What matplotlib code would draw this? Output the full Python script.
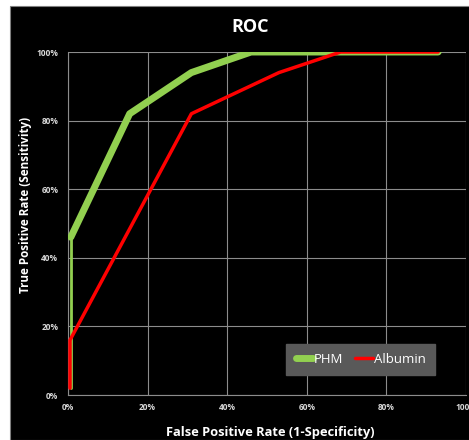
import matplotlib.pyplot as plt
from matplotlib.patches import Rectangle
from matplotlib.ticker import PercentFormatter

plt.rcParams['font.family'] = ['Open Sans', 'DejaVu Sans']

# ROC points (false positive rate, true positive rate)
phm_fpr = [0.007, 0.007, 0.155, 0.31, 0.46, 0.93]
phm_tpr = [0.02, 0.46, 0.82, 0.94, 1.00, 1.00]

alb_fpr = [0.005, 0.005, 0.31, 0.53, 0.685, 0.93]
alb_tpr = [0.02, 0.16, 0.82, 0.94, 1.00, 1.00]

ticks = [0, 0.2, 0.4, 0.6, 0.8, 1.0]

fig = plt.figure(figsize=(4.69, 4.40), dpi=100)
fig.patch.set_facecolor('white')
fig.patches.append(Rectangle((10 / 469, 0), 1, 1 - 6 / 440, transform=fig.transFigure,
                             facecolor='black', edgecolor='#7f7f7f', linewidth=0.8, zorder=-5))

ax = fig.add_axes([68 / 469, 45 / 440, 398 / 469, 343 / 440])
ax.set_zorder(2)
ax.set_facecolor('black')

# thin first segment, then the thick curve
ax.plot(phm_fpr[:2], phm_tpr[:2], color='#92D050', linewidth=2, solid_capstyle='round', zorder=3)
ax.plot(phm_fpr[1:], phm_tpr[1:], color='#92D050', linewidth=5, solid_capstyle='round',
        solid_joinstyle='round', zorder=3, label='PHM')
ax.plot(alb_fpr, alb_tpr, color='#FF0000', linewidth=2.5, solid_capstyle='round',
        solid_joinstyle='round', zorder=4, label='Albumin')

ax.set_xlim(0, 1)
ax.set_ylim(0, 1)
ax.set_xticks(ticks)
ax.set_yticks(ticks)
ax.xaxis.set_major_formatter(PercentFormatter(1.0, decimals=0))
ax.yaxis.set_major_formatter(PercentFormatter(1.0, decimals=0))
ax.tick_params(colors='#d9d9d9', labelsize=6, length=0)
ax.tick_params(axis='x', pad=6)
ax.tick_params(axis='y', pad=7)
for lab in ax.get_xticklabels() + ax.get_yticklabels():
    lab.set_fontweight('bold')
ax.grid(color='#8c8c8c', linewidth=0.8)
for s in ax.spines.values():
    s.set_visible(False)
ax.spines['left'].set_visible(True)
ax.spines['bottom'].set_visible(True)
ax.spines['left'].set_color('#8c8c8c')
ax.spines['bottom'].set_color('#8c8c8c')

fig.text(250 / 469, 1 - 27 / 440, 'ROC', color='white', fontsize=13, fontweight='bold',
         ha='center', va='center')
ax.set_xlabel('False Positive Rate (1-Specificity)', color='white', fontsize=9.3,
              fontweight='bold', va='center')
ax.xaxis.set_label_coords(0.508, -0.108)
ax.set_ylabel('True Positive Rate (Sensitivity)', color='white', fontsize=8.4,
              fontweight='bold', va='center')
ax.yaxis.set_label_coords(-0.108, 0.554)

leg = ax.legend(loc='lower right', bbox_to_anchor=(0.922, 0.058), borderaxespad=0, ncol=2,
                frameon=True, facecolor='#595959', edgecolor='#595959', framealpha=1,
                fancybox=False, fontsize=9.5, handlelength=1.3, handletextpad=0.1,
                columnspacing=0.9, borderpad=0.7)
for t in leg.get_texts():
    t.set_color('white')

fig.savefig('out.png', dpi=100, facecolor=fig.get_facecolor())
